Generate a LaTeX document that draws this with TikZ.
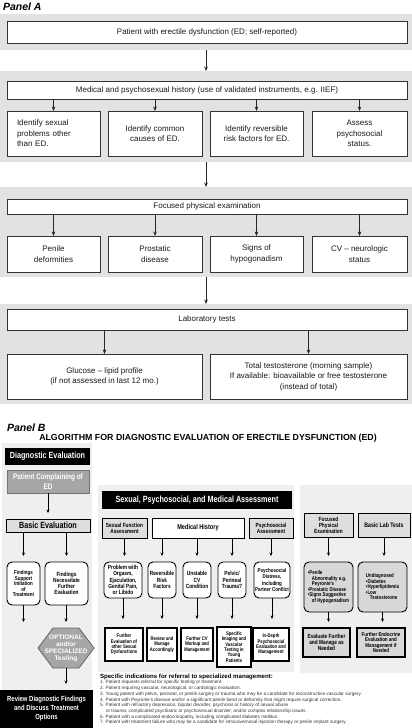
\documentclass[tikz,border=0pt]{standalone}
\usepackage{fontspec}
\setmainfont{Liberation Sans}
\newfontfamily\nf[FakeStretch=0.8]{Liberation Sans}
\usetikzlibrary{arrows.meta}
\definecolor{bandA}{HTML}{E2E2E2}
\definecolor{bgB}{HTML}{EFEFEF}
\definecolor{lgB}{HTML}{DEDEDE}
\definecolor{pcB}{HTML}{A6A6A6}
\definecolor{rgB}{HTML}{D8D8D8}
\definecolor{txA}{HTML}{1A1A1A}
\newcommand\fs[2]{\fontsize{#1}{#2}\selectfont}
\newcommand\nfb[2]{\nf\bfseries\fontsize{#1}{#2}\selectfont}
\newcommand\mybox[7][]{\node[#1, minimum width={#4-#2}, minimum height={#5-#3}] (#6) at ({(#2+#4)/2},{(#3+#5)/2}) {#7};}
\begin{document}
\begin{tikzpicture}[x=1pt,y=-1pt, inner sep=0pt, outer sep=0pt,
  band/.style={fill=bandA},
  boxA/.style={draw=black!80, line width=0.8pt, fill=white, align=center, text=txA, font=\fs{8}{10.5}},
  arrA/.style={-{Stealth[length=4.5pt,width=3.6pt]}, line width=0.7pt, draw=black!85},
  bgb/.style={fill=bgB},
  blk/.style={fill=black, text=white, align=center},
  pcbox/.style={fill=pcB, draw=black!55, line width=0.6pt, text=white, align=center},
  lgbox/.style={draw=black, line width=0.8pt, fill=lgB, align=center},
  wbox/.style={draw=black, line width=0.8pt, fill=white, align=center},
  rbox/.style={draw=black, line width=0.9pt, rounded corners=5pt, fill=white, align=center},
  rgbox/.style={rbox, fill=rgB, align=left},
  tbox/.style={draw=black, line width=1.3pt, fill=white, align=center},
  tgbox/.style={tbox, fill=rgB},
  hexst/.style={fill=pcB, draw=black!60, line width=0.8pt},
  arrB/.style={-{Stealth[length=3.5pt,width=3pt]}, line width=0.6pt, shorten >=6pt}]
\useasboundingbox (0,0) rectangle (412,728);

% ---------------- Panel A ----------------
\node[anchor=base west, font=\bfseries\itshape\fs{10.5}{12}] (pA) at (3,10) {Panel A};
\mybox[band]{0}{14}{412}{50}{b1}{}
\mybox[boxA]{7}{21}{407}{43}{a1}{Patient with erectile dysfunction (ED; self-reported)}
\mybox[band]{0}{71}{412}{162}{b2}{}
\mybox[boxA]{7}{81}{407}{99}{a2}{Medical and psychosexual history (use of validated instruments, e.g. IIEF)}
\mybox[boxA, align=left, text width=73pt]{7}{111}{100}{156}{a2a}{Identify sexual\\problems other\\than ED.}
\mybox[boxA]{108}{111}{202}{156}{a2b}{Identify common\\causes of ED.}
\mybox[boxA]{210}{111}{303}{156}{a2c}{Identify reversible\\risk factors for ED.}
\mybox[boxA]{312}{111}{407}{156}{a2d}{Assess\\psychosocial\\status.}
\mybox[band]{0}{187}{412}{277}{b3}{}
\mybox[boxA]{7}{199}{407}{214}{a3}{Focused physical examination}
\mybox[boxA]{7}{236}{100}{272}{a3a}{Penile\\deformities}
\mybox[boxA]{108}{236}{202}{272}{a3b}{Prostatic\\disease}
\mybox[boxA]{210}{236}{303}{272}{a3c}{Signs of\\hypogonadism}
\mybox[boxA]{312}{236}{407}{272}{a3d}{CV – neurologic\\status}
\mybox[band]{0}{304}{412}{404}{b4}{}
\mybox[boxA]{7}{309}{407}{330}{a4}{Laboratory tests}
\mybox[boxA]{7}{354}{202}{399}{a4a}{Glucose – lipid profile\\(if not assessed in last 12 mo.)}
\mybox[boxA]{210}{354}{407}{399}{a4b}{Total testosterone (morning sample)\\If available: bioavailable or free testosterone\\(instead of total)}

\draw[arrA] (b1.south) -- (b2.north);
\foreach \n in {a2a,a2b,a2c,a2d} \draw[arrA] (a2.south -| \n.north) -- (\n.north);
\draw[arrA] (b2.south) -- (b3.north);
\foreach \n in {a3a,a3b,a3c,a3d} \draw[arrA] (a3.south -| \n.north) -- (\n.north);
\draw[arrA] (b3.south) -- (b4.north);
\foreach \n in {a4a,a4b} \draw[arrA] (a4.south -| \n.north) -- (\n.north);

% ---------------- Panel B ----------------
\node[anchor=base west, font=\bfseries\itshape\fs{10.5}{12}] (pB) at (7,431) {Panel B};
\node[anchor=base, font=\bfseries\fs{8.8}{10}] (ttl) at (208,440) {ALGORITHM FOR DIAGNOSTIC EVALUATION OF ERECTILE DYSFUNCTION (ED)};

% left column
\mybox[bgb]{2}{443}{92}{728}{lbg}{}
\mybox[blk, font=\nfb{9}{10}]{5}{448}{90}{465}{de}{Diagnostic Evaluation}
\mybox[pcbox, font=\nfb{8}{9.3}]{7}{470}{89}{493}{pc}{Patient Complaining of\\ED}
\mybox[lgbox, font=\nfb{9}{10}]{6}{519}{90}{532}{be}{Basic Evaluation}
\mybox[rbox, font=\nfb{5.6}{5.5}]{7}{562}{40}{605}{fsu}{Findings\\Support\\Initiation\\of\\Treatment}
\mybox[rbox, font=\nfb{6}{5.8}]{45}{562}{88}{605}{fne}{Findings\\Necessitate\\Further\\Evaluation}
\draw[hexst] (38,648) -- (53,628) -- (79,628) -- (94,648) -- (79,668) -- (53,668) -- cycle;
\node[minimum width=40pt, minimum height=40pt, align=center, text=white, font=\bfseries\fs{6.5}{7}] (hx) at (66,648) {OPTIONAL\\and/or\\SPECIALIZED\\Testing};
\mybox[blk, font=\nfb{7.4}{9}]{0}{690}{93}{728}{rv}{Review Diagnostic Findings\\and Discuss Treatment\\Options}
\coordinate (fsend) at (23.5,628);

\draw[arrB] (pc.south) -- (pc.south |- be.north);
\draw[arrB] (be.south -| fsu.north) -- (fsu.north);
\draw[arrB] (be.south -| fne.north) -- (fne.north);
\draw[arrB] (fsu.south) -- (fsend);
\draw[arrB] (fne.south -| hx.north) -- (hx.north);
\draw[arrB] (hx.south) -- (hx.south |- rv.north);

% middle column
\mybox[bgb]{98}{485}{294}{672}{mbg}{}
\mybox[blk, font=\nfb{9}{10}]{102}{491}{292}{509}{hd}{Sexual, Psychosocial, and Medical Assessment}
\mybox[lgbox, font=\nfb{6}{6}]{102}{518}{147}{538}{sf}{Sexual Function\\Assessment}
\mybox[wbox, font=\nfb{7}{8}]{152}{518}{244}{538}{mh}{Medical History}
\mybox[lgbox, font=\nfb{6}{6}]{249}{518}{293}{538}{ps}{Psychosocial\\Assessment}
\mybox[rbox, font=\nfb{6}{6.4}]{104}{562}{142}{598}{r1}{Problem with\\Orgasm,\\Ejaculation,\\Genital Pain,\\or Libido}
\mybox[rbox, font=\nfb{6}{6.4}]{148}{562}{176}{598}{r2}{Reversible\\Risk\\Factors}
\mybox[rbox, font=\nfb{6}{6.4}]{183}{562}{211}{598}{r3}{Unstable\\CV\\Condition}
\mybox[rbox, font=\nfb{6}{6.4}]{218}{562}{246}{598}{r4}{Pelvic/\\Perineal\\Trauma?}
\mybox[rbox, font=\nfb{5.6}{6.4}]{254}{562}{290}{598}{r5}{Psychosocial\\Distress,\\Including\\Partner Conflict}
\mybox[tbox, font=\nfb{5.2}{5.3}]{105}{628}{143}{661}{f1}{Further\\Evaluation of\\other Sexual\\Dysfunctions}
\mybox[tbox, font=\nfb{5.2}{5.3}]{147}{628}{177}{661}{f2}{Review and\\Manage\\Accordingly}
\mybox[tbox, font=\nfb{5.2}{5.3}]{181}{628}{213}{661}{f3}{Further CV\\Workup and\\Management}
\mybox[tbox, font=\nfb{5.2}{5.3}]{217}{627}{251}{667}{f4}{Specific\\Imaging and\\Vascular\\Testing in\\Young\\Patients}
\mybox[tbox, font=\nfb{5.2}{5.3}]{253}{628}{289}{661}{f5}{In-Depth\\Psychosocial\\Evaluation and\\Management}

\draw[arrB] (sf.south) -- (sf.south |- r1.north);
\foreach \n in {r2,r3,r4} \draw[arrB] (mh.south -| \n.north) -- (\n.north);
\draw[arrB] (ps.south) -- (ps.south |- r5.north);
\draw[arrB, shorten >=9pt] (r1.south) -- (r1.south |- f1.north);
\draw[arrB, shorten >=9pt] (r2.south) -- (r2.south |- f2.north);
\draw[arrB, shorten >=9pt] (r3.south) -- (r3.south |- f3.north);
\draw[arrB, shorten >=8pt] (r4.south) -- (r4.south |- f4.north);
\draw[arrB, shorten >=9pt] (r5.south) -- (r5.south |- f5.north);

% right column
\mybox[bgb]{300}{485}{412}{673}{rbg}{}
\mybox[lgbox, font=\nfb{6}{6}]{304}{513}{353}{537}{fp}{Focused\\Physical\\Examination}
\mybox[lgbox, font=\nfb{6.5}{7}]{358}{513}{410}{537}{bl}{Basic Lab Tests}
\mybox[rgbox, font=\nfb{5.5}{5.5}]{304}{562}{353}{612}{g1}{•Penile\\\hspace*{4pt}Abnormality e.g.\\\hspace*{4pt}Peyronie's\\•Prostatic Disease\\•Signs Suggestive\\\hspace*{4pt}of Hypogonadism}
\mybox[rgbox, font=\nfb{5.5}{5.5}]{358}{562}{407}{612}{g2}{Undiagnosed\\•Diabetes\\•Hyperlipidemia\\•Low\\\hspace*{4pt}Testosterone}
\mybox[tgbox, font=\nfb{6}{6}]{303}{628}{350}{657}{e1}{Evaluate Further\\and Manage as\\Needed}
\mybox[tgbox, font=\nfb{5.6}{5.4}]{357}{628}{405}{657}{e2}{Further Endocrine\\Evaluation and\\Management if\\Needed}

\draw[arrB] (fp.south) -- (fp.south |- g1.north);
\draw[arrB] (bl.south) -- (bl.south |- g2.north);
\draw[arrB] (g1.south) -- (g1.south |- e1.north);
\draw[arrB] (g2.south) -- (g2.south |- e2.north);

% referral list
\node[anchor=base west, font=\bfseries\fs{6.1}{7}] (sp) at (100,678) {Specific indications for referral to specialized management:};
\node[anchor=north west, align=left, font=\fs{4.7}{5.7}, text=black!80] (lst) at (100,680.5) {1. Patient requests referral for specific testing or treatment.\\
2. Patient requiring vascular, neurological, or cardiologic evaluation.\\
3. Young patient with pelvic, perineal, or penile surgery or trauma who may be a candidate for reconstructive vascular surgery.\\
4. Patient with Peyronie's disease and/or a significant penile bend or deformity that might require surgical correction.\\
5. Patient with refractory depression, bipolar disorder, psychosis or history of sexual abuse\\
\hspace*{6pt}or trauma; complicated psychiatric or psychosexual disorder; and/or complex relationship issues.\\
6. Patient with a complicated endocrinopathy, including complicated diabetes mellitus.\\
7. Patient with treatment failure who may be a candidate for intracavernosal injection therapy or penile implant surgery.};
\end{tikzpicture}
\end{document}
